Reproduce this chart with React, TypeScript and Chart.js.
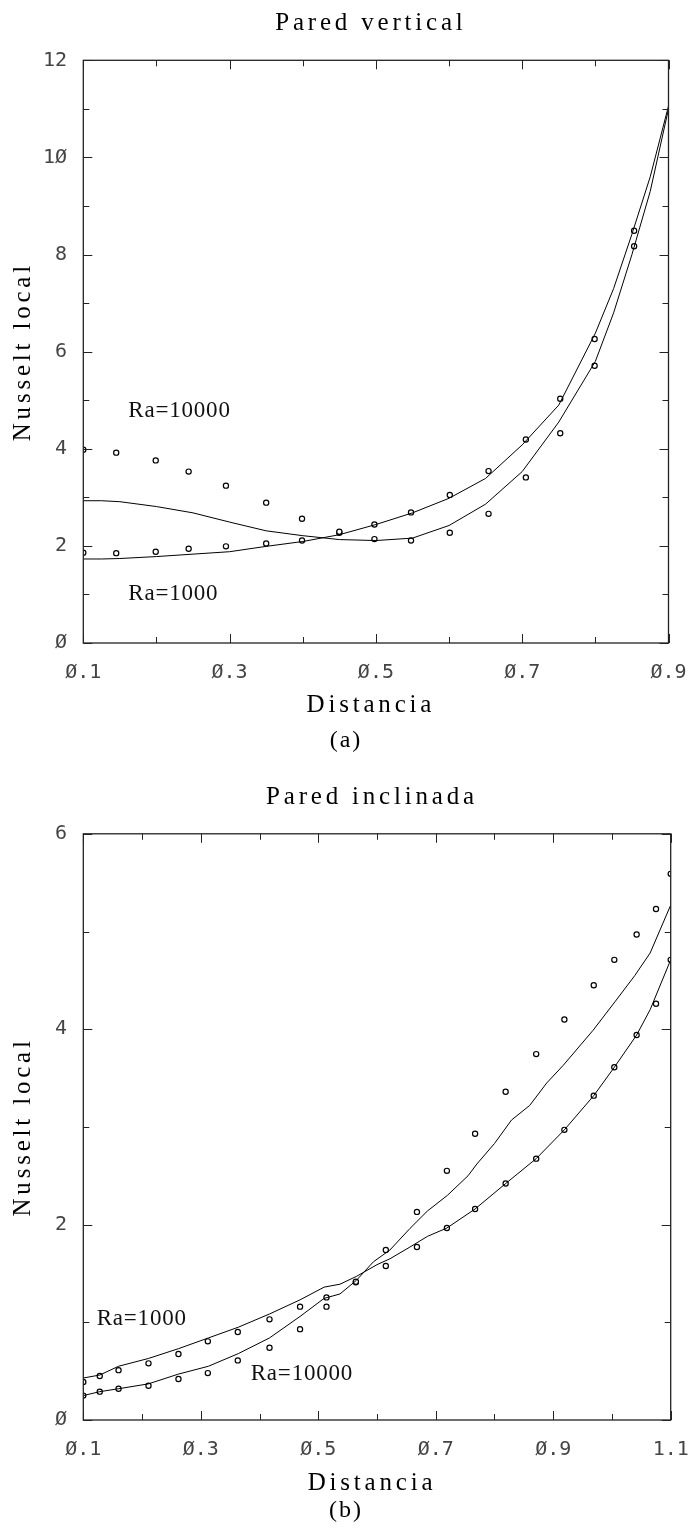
import React, { useEffect, useRef } from 'react';
import { Chart, registerables } from 'chart.js';

Chart.register(...registerables);

// ---------------- (a) Pared vertical ----------------
const vertTitle = 'Pared vertical';
const vertCaption = '(a)';
const vertLineX = [0.1, 0.125, 0.15, 0.2, 0.25, 0.3, 0.35, 0.4, 0.45, 0.5, 0.55, 0.6, 0.65, 0.7, 0.75, 0.8, 0.825, 0.85, 0.875, 0.9];
const vertLineRa10000 = [2.93, 2.93, 2.91, 2.81, 2.68, 2.49, 2.31, 2.21, 2.13, 2.11, 2.16, 2.42, 2.86, 3.53, 4.55, 5.8, 6.8, 8.0, 9.3, 11.0];
const vertLineRa1000 = [1.73, 1.73, 1.74, 1.78, 1.83, 1.88, 1.99, 2.09, 2.23, 2.44, 2.68, 2.98, 3.39, 4.08, 4.9, 6.38, 7.3, 8.42, 9.6, 11.06];

const vertPointX = [0.1, 0.145, 0.199, 0.244, 0.295, 0.35, 0.399, 0.45, 0.498, 0.548, 0.601, 0.654, 0.705, 0.752, 0.799, 0.853];
const vertPointRa10000 = [3.98, 3.92, 3.76, 3.53, 3.24, 2.89, 2.56, 2.29, 2.14, 2.11, 2.27, 2.66, 3.41, 4.32, 5.71, 8.17];
const vertPointRa1000 = [1.86, 1.85, 1.88, 1.94, 1.99, 2.05, 2.11, 2.27, 2.44, 2.69, 3.05, 3.54, 4.19, 5.03, 6.26, 8.49];

const vertXMajor = [0.1, 0.3, 0.5, 0.7, 0.9];
const vertXMinor = [0.2, 0.4, 0.6, 0.8];
const vertYMajor = [0, 2, 4, 6, 8, 10, 12];
const vertYMinor = [1, 3, 5, 7, 9, 11];

const vertLabelText = ['Ra=10000', 'Ra=1000'];
const vertLabelX = [0.1615, 0.1615];
const vertLabelY = [4.77, 1.01];

// ---------------- (b) Pared inclinada ----------------
const inclTitle = 'Pared inclinada';
const inclCaption = '(b)';
const inclLineRa1000X = [0.1, 0.128, 0.16, 0.211, 0.262, 0.313, 0.364, 0.417, 0.469, 0.51, 0.537, 0.565, 0.6, 0.622, 0.656, 0.686, 0.719, 0.767, 0.819, 0.871, 0.919, 0.969, 1.004, 1.042, 1.065, 1.1];
const inclLineRa1000 = [0.43, 0.46, 0.55, 0.63, 0.73, 0.84, 0.95, 1.085, 1.23, 1.36, 1.39, 1.47, 1.59, 1.65, 1.77, 1.88, 1.965, 2.16, 2.42, 2.675, 2.97, 3.32, 3.61, 3.94, 4.2, 4.71];
const inclLineRa10000X = [0.1, 0.128, 0.16, 0.211, 0.262, 0.313, 0.364, 0.417, 0.469, 0.51, 0.537, 0.565, 0.594, 0.622, 0.656, 0.686, 0.72, 0.755, 0.77, 0.8, 0.829, 0.86, 0.889, 0.917, 0.968, 1.005, 1.039, 1.065, 1.1];
const inclLineRa10000 = [0.25, 0.29, 0.32, 0.37, 0.47, 0.55, 0.68, 0.84, 1.06, 1.245, 1.29, 1.43, 1.62, 1.74, 1.96, 2.14, 2.3, 2.5, 2.62, 2.83, 3.07, 3.22, 3.45, 3.63, 3.99, 4.28, 4.55, 4.78, 5.27];

const inclPointX = [0.1, 0.128, 0.16, 0.211, 0.262, 0.312, 0.363, 0.417, 0.469, 0.514, 0.564, 0.615, 0.668, 0.719, 0.767, 0.819, 0.871, 0.919, 0.969, 1.004, 1.042, 1.075, 1.1];
const inclPointRa10000 = [0.25, 0.29, 0.32, 0.35, 0.42, 0.48, 0.61, 0.74, 0.93, 1.16, 1.415, 1.74, 2.13, 2.55, 2.93, 3.36, 3.745, 4.1, 4.45, 4.71, 4.97, 5.23, 5.59];
const inclPointRa1000 = [0.39, 0.45, 0.51, 0.58, 0.675, 0.805, 0.9, 1.03, 1.16, 1.255, 1.41, 1.576, 1.77, 1.965, 2.16, 2.42, 2.675, 2.97, 3.32, 3.61, 3.94, 4.26, 4.71];

const inclXMajor = [0.1, 0.3, 0.5, 0.7, 0.9, 1.1];
const inclXMinor = [0.2, 0.4, 0.6, 0.8, 1.0];
const inclYMajor = [0, 2, 4, 6];
const inclYMinor = [1, 3, 5];

const inclLabelText = ['Ra=1000', 'Ra=10000'];
const inclLabelX = [0.1228, 0.385];
const inclLabelY = [1.03, 0.47];

// shared axis titles
const xAxisTitle = 'Distancia';
const yAxisTitle = 'Nusselt local';

// ---------------- styling ----------------
const SERIF = '"Liberation Serif", "Times New Roman", serif';
const MONO = '"DejaVu Sans Mono", monospace';
const TICK_COLOR = '#444';

const zip = (xs: number[], ys: number[]) => xs.map((x, i) => ({ x, y: ys[i] }));

const fmtTick = (v: number) => String(Math.round(v * 10) / 10).replace(/0/g, '\u00D8');

const framePlugin = {
  id: 'frame',
  afterDatasetsDraw(chart: any, _args: any, opts: any) {
    const { ctx, chartArea: a, scales } = chart;
    const x = scales.x;
    const y = scales.y;
    ctx.save();
    ctx.strokeStyle = '#222';
    ctx.lineWidth = 1.3;
    ctx.strokeRect(a.left, a.top, a.right - a.left, a.bottom - a.top);
    ctx.lineWidth = 1;
    ctx.beginPath();
    const major = 9;
    const minor = 6;
    const xt = (vals: number[], len: number) => {
      vals.forEach((v) => {
        const px = Math.round(x.getPixelForValue(v)) + 0.5;
        ctx.moveTo(px, a.bottom);
        ctx.lineTo(px, a.bottom - len);
        ctx.moveTo(px, a.top);
        ctx.lineTo(px, a.top + len);
      });
    };
    const yt = (vals: number[], len: number) => {
      vals.forEach((v) => {
        const py = Math.round(y.getPixelForValue(v)) + 0.5;
        ctx.moveTo(a.left, py);
        ctx.lineTo(a.left + len, py);
        ctx.moveTo(a.right, py);
        ctx.lineTo(a.right - len, py);
      });
    };
    xt(opts.xMajor, major);
    xt(opts.xMinor, minor);
    yt(opts.yMajor, major);
    yt(opts.yMinor, minor);
    ctx.stroke();
    ctx.restore();
  },
};

const labelsPlugin = {
  id: 'ralabels',
  afterDatasetsDraw(chart: any, _args: any, opts: any) {
    const { ctx, scales } = chart;
    ctx.save();
    ctx.font = `23px ${SERIF}`;
    (ctx as any).letterSpacing = '0.8px';
    ctx.fillStyle = '#111';
    ctx.textAlign = 'left';
    ctx.textBaseline = 'middle';
    opts.text.forEach((t: string, i: number) => {
      ctx.fillText(t, scales.x.getPixelForValue(opts.x[i]), scales.y.getPixelForValue(opts.y[i]));
    });
    ctx.restore();
  },
};

// titles, axis titles and caption (serif, widely spaced like the original)
const textsPlugin = {
  id: 'texts',
  afterDraw(chart: any, _args: any, o: any) {
    const { ctx, chartArea: a } = chart;
    const put = (text: string, size: number, spacing: number, x: number, y: number, rot = 0) => {
      ctx.save();
      ctx.font = `${size}px ${SERIF}`;
      (ctx as any).letterSpacing = `${spacing}px`;
      ctx.fillStyle = '#000';
      ctx.textAlign = 'center';
      ctx.textBaseline = 'middle';
      ctx.translate(x, y);
      if (rot) ctx.rotate(rot);
      ctx.fillText(text, 0, 0);
      ctx.restore();
    };
    const cx = (a.left + a.right) / 2 + o.centerShift;
    put(o.title, 25, 3.8, cx, a.top - o.titleOffset);
    put(o.xTitle, 25, 3.8, cx, a.bottom + o.xTitleOffset);
    put(o.yTitle, 25, 3.8, o.yTitleX, (a.top + a.bottom) / 2, -Math.PI / 2);
    put(o.caption, 24, 2, chart.width / 2, a.bottom + o.captionOffset);
  },
};

interface Params {
  title: string;
  caption: string;
  xMin: number;
  xMax: number;
  yMax: number;
  xMajor: number[];
  xMinor: number[];
  yMajor: number[];
  yMinor: number[];
  lines: { x: number[]; y: number[] }[];
  points: { x: number[]; y: number[] }[];
  labels: { text: string[]; x: number[]; y: number[] };
  padTop: number;
  padBottom: number;
  rightGap: number;
  titleOffset: number;
  xTitleOffset: number;
  captionOffset: number;
}

function buildConfig(p: Params): any {
  const lineSets = p.lines.map((l) => ({
    data: zip(l.x, l.y),
    showLine: true,
    borderColor: '#000',
    borderWidth: 1,
    pointRadius: 0,
    tension: 0,
    fill: false,
  }));
  const pointSets = p.points.map((s) => ({
    data: zip(s.x, s.y),
    showLine: false,
    pointRadius: 2.6,
    pointBorderWidth: 1.2,
    pointBorderColor: '#000',
    pointBackgroundColor: '#fff',
  }));
  return {
    type: 'scatter',
    data: { datasets: [...lineSets, ...pointSets] },
    options: {
      responsive: false,
      animation: false,
      events: [],
      layout: { padding: { left: 0, right: 0, top: p.padTop, bottom: p.padBottom } },
      plugins: {
        legend: { display: false },
        tooltip: { enabled: false },
        title: { display: false },
        frame: { xMajor: p.xMajor, xMinor: p.xMinor, yMajor: p.yMajor, yMinor: p.yMinor },
        ralabels: p.labels,
        texts: {
          title: p.title,
          caption: p.caption,
          xTitle: xAxisTitle,
          yTitle: yAxisTitle,
          centerShift: -5,
          titleOffset: p.titleOffset,
          xTitleOffset: p.xTitleOffset,
          captionOffset: p.captionOffset,
          yTitleX: 23,
        },
      },
      scales: {
        x: {
          type: 'linear',
          min: p.xMin,
          max: p.xMax,
          afterBuildTicks: (s: any) => {
            s.ticks = p.xMajor.map((v) => ({ value: v }));
          },
          afterFit: (s: any) => {
            s.height = 80;
          },
          grid: { display: false, drawTicks: false },
          border: { display: false },
          ticks: {
            padding: 3,
            font: { family: MONO, size: 20, lineHeight: 2.7 },
            color: TICK_COLOR,
            maxRotation: 0,
            autoSkip: false,
            callback: (v: any) => fmtTick(Number(v)),
          },
        },
        y: {
          type: 'linear',
          min: 0,
          max: p.yMax,
          afterBuildTicks: (s: any) => {
            s.ticks = p.yMajor.map((v) => ({ value: v }));
          },
          afterFit: (s: any) => {
            s.width = 83.3;
          },
          grid: { display: false, drawTicks: false },
          border: { display: false },
          ticks: {
            padding: 16.3,
            font: { family: MONO, size: 20 },
            color: TICK_COLOR,
            autoSkip: false,
            callback: (v: any) => fmtTick(Number(v)),
          },
        },
        y2: {
          type: 'linear',
          position: 'right',
          min: 0,
          max: p.yMax,
          display: true,
          afterFit: (s: any) => {
            s.width = p.rightGap;
          },
          grid: { display: false, drawTicks: false },
          border: { display: false },
          ticks: { display: false },
        },
      },
    },
    plugins: [framePlugin, labelsPlugin, textsPlugin],
  };
}

const vertConfig = () =>
  buildConfig({
    title: vertTitle,
    caption: vertCaption,
    xMin: 0.1,
    xMax: 0.9,
    yMax: 12,
    xMajor: vertXMajor,
    xMinor: vertXMinor,
    yMajor: vertYMajor,
    yMinor: vertYMinor,
    lines: [
      { x: vertLineX, y: vertLineRa10000 },
      { x: vertLineX, y: vertLineRa1000 },
    ],
    points: [
      { x: vertPointX, y: vertPointRa10000 },
      { x: vertPointX, y: vertPointRa1000 },
    ],
    labels: { text: vertLabelText, x: vertLabelX, y: vertLabelY },
    padTop: 60.3,
    padBottom: 47,
    rightGap: 23.5,
    titleOffset: 37.2,
    xTitleOffset: 62,
    captionOffset: 97.5,
  });

const inclConfig = () =>
  buildConfig({
    title: inclTitle,
    caption: inclCaption,
    xMin: 0.1,
    xMax: 1.1,
    yMax: 6,
    xMajor: inclXMajor,
    xMinor: inclXMinor,
    yMajor: inclYMajor,
    yMinor: inclYMinor,
    lines: [
      { x: inclLineRa1000X, y: inclLineRa1000 },
      { x: inclLineRa10000X, y: inclLineRa10000 },
    ],
    points: [
      { x: inclPointX, y: inclPointRa10000 },
      { x: inclPointX, y: inclPointRa1000 },
    ],
    labels: { text: inclLabelText, x: inclLabelX, y: inclLabelY },
    padTop: 63.8,
    padBottom: 30,
    rightGap: 21.3,
    titleOffset: 36.8,
    xTitleOffset: 63,
    captionOffset: 91,
  });

function ChartCanvas({ makeConfig, top, height }: { makeConfig: () => any; top: number; height: number }) {
  const ref = useRef<HTMLCanvasElement>(null);
  useEffect(() => {
    if (!ref.current) return;
    const chart = new Chart(ref.current, makeConfig());
    return () => chart.destroy();
  }, [makeConfig]);
  return (
    <canvas
      ref={ref}
      width={692}
      height={height}
      style={{ position: 'absolute', left: 0, top, width: 692, height, display: 'block' }}
    />
  );
}

export default function App() {
  return (
    <div style={{ position: 'absolute', left: 0, top: 0, width: 692, height: 1530, background: '#fff', overflow: 'hidden' }}>
      <ChartCanvas makeConfig={vertConfig} top={0} height={770} />
      <ChartCanvas makeConfig={inclConfig} top={770} height={760} />
    </div>
  );
}
